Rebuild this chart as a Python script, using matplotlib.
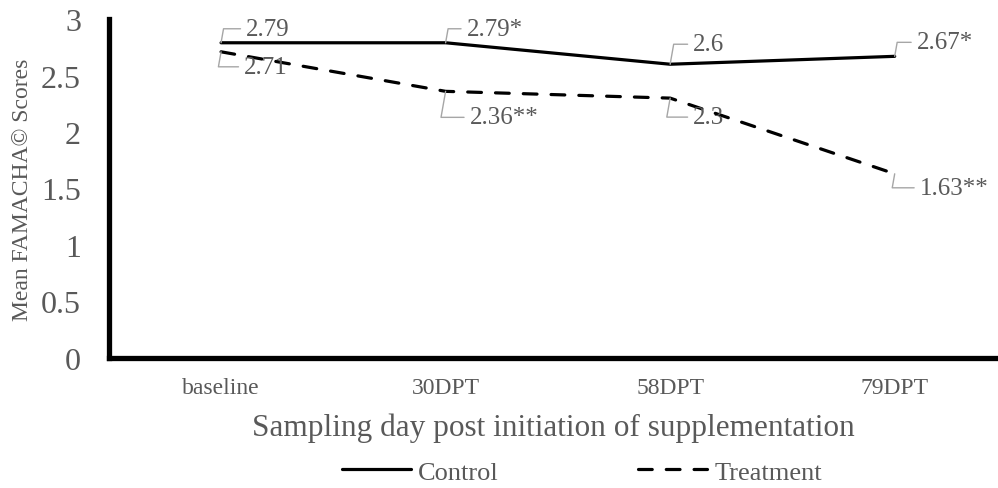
import numpy as np
import matplotlib.pyplot as plt

plt.rcParams['font.family'] = ['Liberation Serif', 'DejaVu Serif']

days = ['baseline', '30DPT', '58DPT', '79DPT']
control = [2.79, 2.79, 2.6, 2.67]
treatment = [2.71, 2.36, 2.3, 1.63]
control_labels = ['2.79', '2.79*', '2.6', '2.67*']
treatment_labels = ['2.71', '2.36**', '2.3', '1.63**']

grey = '#595959'
x = np.arange(len(days))

fig = plt.figure(figsize=(9.98, 4.89), dpi=100)
ax = fig.add_axes([0.109, 0.266, 0.891, 0.693])

ax.plot(x, control, '-', color='black', lw=2.3, label='Control', solid_capstyle='round')
ax.plot(x, treatment, '--', color='black', lw=2.3, label='Treatment',
        dashes=(4.3, 4.4), dash_capstyle='round')

ax.set_xlim(-0.5, 3.46)
ax.set_ylim(0, 3)
ax.set_yticks(np.arange(0, 3.01, 0.5))
ax.set_yticklabels(['0', '0.5', '1', '1.5', '2', '2.5', '3'])
ax.set_xticks(x)
ax.set_xticklabels(days)
ax.tick_params(axis='y', length=0, pad=20, labelsize=23, labelcolor=grey)
ax.tick_params(axis='x', length=0, pad=14, labelsize=17, labelcolor=grey)

for s in ['top', 'right']:
    ax.spines[s].set_visible(False)
for s in ['left', 'bottom']:
    ax.spines[s].set_linewidth(3.8)
    ax.spines[s].set_capstyle('projecting')

ax.set_ylabel('Mean FAMACHA\u00a9 Scores', fontsize=17, color=grey, labelpad=6)
ax.set_xlabel('Sampling day post initiation of supplementation', fontsize=22.5, color=grey, labelpad=10)

# data labels with leader lines (offsets in pixels)
c_off = [(25, 14), (21, 14), (23, 20), (22, 14)]
t_off = [(23, -15), (24, -26), (23, -19), (25, -14)]


def label(xi, yi, txt, off):
    ax.annotate(txt, xy=(xi, yi), xytext=off, textcoords='offset pixels',
                ha='left', va='center', fontsize=18, color=grey,
                arrowprops=dict(arrowstyle='-', color='#a6a6a6', lw=1,
                                shrinkA=2, shrinkB=0, relpos=(0, 0.5),
                                connectionstyle='angle,angleA=0,angleB=80,rad=0'))


for i in range(len(days)):
    label(x[i], control[i], control_labels[i], c_off[i])
    label(x[i], treatment[i], treatment_labels[i], t_off[i])

fig.legend(loc='center', bbox_to_anchor=(0.583, 0.033), ncol=2, frameon=False,
           fontsize=19, labelcolor=grey, handlelength=2.6, handletextpad=0.27,
           columnspacing=5.3)

fig.savefig('out.png', dpi=100)
